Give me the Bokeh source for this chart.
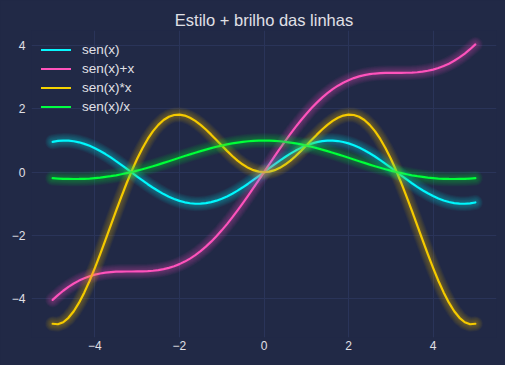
from bokeh.plotting import figure
from bokeh.models import Range1d, FixedTicker, Legend, LegendItem
from bokeh.embed import file_html
from bokeh.resources import INLINE

# ---- data ----
x = [-5.0, -4.875, -4.75, -4.625, -4.5, -4.375, -4.25, -4.125, -4.0, -3.875, -3.75, -3.625,
     -3.5, -3.375, -3.25, -3.125, -3.0, -2.875, -2.75, -2.625, -2.5, -2.375, -2.25, -2.125,
     -2.0, -1.875, -1.75, -1.625, -1.5, -1.375, -1.25, -1.125, -1.0, -0.875, -0.75, -0.625,
     -0.5, -0.375, -0.25, -0.125, 0.0, 0.125, 0.25, 0.375, 0.5, 0.625, 0.75, 0.875, 1.0,
     1.125, 1.25, 1.375, 1.5, 1.625, 1.75, 1.875, 2.0, 2.125, 2.25, 2.375, 2.5, 2.625, 2.75,
     2.875, 3.0, 3.125, 3.25, 3.375, 3.5, 3.625, 3.75, 3.875, 4.0, 4.125, 4.25, 4.375, 4.5,
     4.625, 4.75, 4.875, 5.0]

sen_x = [0.959, 0.987, 0.999, 0.996, 0.978, 0.944, 0.895, 0.832, 0.757, 0.669, 0.572, 0.465,
         0.351, 0.231, 0.108, -0.017, -0.141, -0.263, -0.382, -0.494, -0.598, -0.694, -0.778,
         -0.850, -0.909, -0.954, -0.984, -0.999, -0.997, -0.981, -0.949, -0.902, -0.841, -0.768,
         -0.682, -0.585, -0.479, -0.366, -0.247, -0.125, 0.0, 0.125, 0.247, 0.366, 0.479, 0.585,
         0.682, 0.768, 0.841, 0.902, 0.949, 0.981, 0.997, 0.999, 0.984, 0.954, 0.909, 0.850,
         0.778, 0.694, 0.598, 0.494, 0.382, 0.263, 0.141, 0.017, -0.108, -0.231, -0.351, -0.465,
         -0.572, -0.669, -0.757, -0.832, -0.895, -0.944, -0.978, -0.996, -0.999, -0.987, -0.959]

sen_x_plus_x = [-4.041, -3.888, -3.751, -3.629, -3.522, -3.431, -3.355, -3.293, -3.243, -3.206,
                -3.178, -3.160, -3.149, -3.144, -3.142, -3.142, -3.141, -3.138, -3.132, -3.119,
                -3.098, -3.069, -3.028, -2.975, -2.909, -2.829, -2.734, -2.624, -2.497, -2.356,
                -2.199, -2.027, -1.841, -1.643, -1.432, -1.210, -0.979, -0.741, -0.497, -0.250,
                0.0, 0.250, 0.497, 0.741, 0.979, 1.210, 1.432, 1.643, 1.841, 2.027, 2.199, 2.356,
                2.497, 2.624, 2.734, 2.829, 2.909, 2.975, 3.028, 3.069, 3.098, 3.119, 3.132,
                3.138, 3.141, 3.142, 3.142, 3.144, 3.149, 3.160, 3.178, 3.206, 3.243, 3.293,
                3.355, 3.431, 3.522, 3.629, 3.751, 3.888, 4.041]

sen_x_times_x = [-4.795, -4.811, -4.747, -4.607, -4.399, -4.128, -3.804, -3.434, -3.027, -2.594,
                 -2.144, -1.685, -1.228, -0.780, -0.352, 0.052, 0.423, 0.757, 1.050, 1.297,
                 1.496, 1.648, 1.751, 1.807, 1.819, 1.789, 1.722, 1.623, 1.496, 1.349, 1.186,
                 1.015, 0.841, 0.672, 0.511, 0.366, 0.240, 0.137, 0.062, 0.016, 0.0, 0.016,
                 0.062, 0.137, 0.240, 0.366, 0.511, 0.672, 0.841, 1.015, 1.186, 1.349, 1.496,
                 1.623, 1.722, 1.789, 1.819, 1.807, 1.751, 1.648, 1.496, 1.297, 1.050, 0.757,
                 0.423, 0.052, -0.352, -0.780, -1.228, -1.685, -2.144, -2.594, -3.027, -3.434,
                 -3.804, -4.128, -4.399, -4.607, -4.747, -4.811, -4.795]

sen_x_div_x = [-0.192, -0.202, -0.210, -0.215, -0.217, -0.216, -0.211, -0.202, -0.189, -0.173,
               -0.152, -0.128, -0.100, -0.068, -0.033, 0.005, 0.047, 0.092, 0.139, 0.188, 0.239,
               0.292, 0.346, 0.400, 0.455, 0.509, 0.562, 0.615, 0.665, 0.713, 0.759, 0.802,
               0.841, 0.877, 0.909, 0.936, 0.959, 0.977, 0.990, 0.997, 1.0, 0.997, 0.990, 0.977,
               0.959, 0.936, 0.909, 0.877, 0.841, 0.802, 0.759, 0.713, 0.665, 0.615, 0.562,
               0.509, 0.455, 0.400, 0.346, 0.292, 0.239, 0.188, 0.139, 0.092, 0.047, 0.005,
               -0.033, -0.068, -0.100, -0.128, -0.152, -0.173, -0.189, -0.202, -0.211, -0.216,
               -0.217, -0.215, -0.210, -0.202, -0.192]

labels = ["sen(x)", "sen(x)+x", "sen(x)*x", "sen(x)/x"]
colors = ["#08F7FE", "#FE53BB", "#F5D300", "#00FF41"]
series = [sen_x, sen_x_plus_x, sen_x_times_x, sen_x_div_x]

x_ticks = [-4, -2, 0, 2, 4]
x_tick_labels = ["\u22124", "\u22122", "0", "2", "4"]
y_ticks = [-4, -2, 0, 2, 4]
y_tick_labels = ["\u22124", "\u22122", "0", "2", "4"]

BG = "#212946"
GRID = "#2A3459"
TEXT = "#E0E0E6"
FONT = "Liberation Sans"

p = figure(width=505, height=365, output_backend="svg", toolbar_location=None,
           x_range=Range1d(-5.5, 5.5), y_range=Range1d(-5.23, 4.48),
           min_border_left=31, min_border_right=9, min_border_top=30, min_border_bottom=28,
           title="Estilo + brilho das linhas")
p.background_fill_color = BG
p.border_fill_color = BG
p.outline_line_color = None

p.title.align = "center"
p.title.text_color = TEXT
p.title.text_font = FONT
p.title.text_font_size = "16.5px"
p.title.text_font_style = "normal"
p.title.standoff = 4

for ax, ticks, tl in ((p.xaxis[0], x_ticks, x_tick_labels), (p.yaxis[0], y_ticks, y_tick_labels)):
    ax.ticker = FixedTicker(ticks=ticks)
    ax.major_label_overrides = {t: s for t, s in zip(ticks, tl)}
    ax.axis_line_color = None
    ax.major_tick_line_color = None
    ax.minor_tick_line_color = None
    ax.major_tick_out = 0
    ax.major_tick_in = 0
    ax.minor_tick_out = 0
    ax.minor_tick_in = 0
    ax.major_label_text_color = TEXT
    ax.major_label_text_font = FONT
    ax.major_label_text_font_size = "12px"
p.xaxis.major_label_standoff = 3
p.yaxis.major_label_standoff = 6

p.xgrid.grid_line_color = GRID
p.ygrid.grid_line_color = GRID
p.xgrid.ticker = FixedTicker(ticks=x_ticks)
p.ygrid.ticker = FixedTicker(ticks=y_ticks)

items = []
for ys, c, lab in zip(series, colors, labels):
    r = p.line(x, ys, line_color=c, line_width=2.2, line_join="round", line_cap="round")
    items.append(LegendItem(label=lab, renderers=[r]))

# glow
for ys, c in zip(series, colors):
    for n in range(1, 11):
        p.line(x, ys, line_color=c, line_width=2.2 + 1.3 * n, line_alpha=0.035,
               line_join="round", line_cap="round")

legend = Legend(items=items, location="top_left")
legend.background_fill_alpha = 0
legend.border_line_alpha = 0
legend.margin = 0
legend.padding = 10
legend.spacing = 0
legend.label_height = 19
legend.glyph_height = 19
legend.glyph_width = 30
legend.label_standoff = 11
legend.label_text_color = TEXT
legend.label_text_font = FONT
legend.label_text_font_size = "13.5px"
p.add_layout(legend, "center")

html = file_html(p, INLINE)
html = html.replace("</head>", "<style>html, body {background: %s;}</style></head>" % BG, 1)
open("out.html", "w").write(html)
